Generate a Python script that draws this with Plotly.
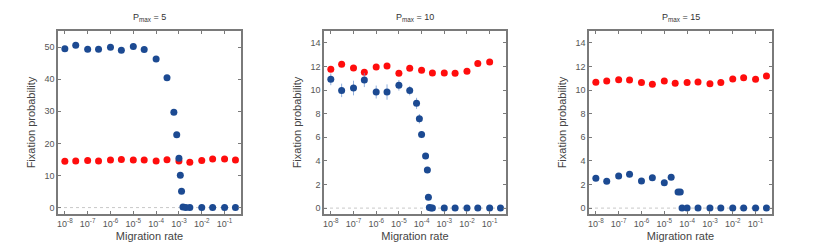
import plotly.graph_objects as go

# ---------------- data ----------------
titles = ["P<sub>max</sub> = 5", "P<sub>max</sub> = 10", "P<sub>max</sub> = 15"]

x_tick_vals = [1e-8, 1e-7, 1e-6, 1e-5, 1e-4, 1e-3, 1e-2, 1e-1]
x_tick_text = ["10<sup>-8</sup>", "10<sup>-7</sup>", "10<sup>-6</sup>", "10<sup>-5</sup>",
               "10<sup>-4</sup>", "10<sup>-3</sup>", "10<sup>-2</sup>", "10<sup>-1</sup>"]

p5_red_x = [1e-8, 3e-8, 1e-7, 3e-7, 1e-6, 3e-6, 1e-5, 3e-5, 1e-4, 3e-4, 1e-3, 3e-3, 1e-2, 3e-2, 1e-1, 3e-1]
p5_red_y = [14.4, 14.5, 14.7, 14.5, 14.8, 15.0, 14.8, 14.8, 14.5, 14.9, 14.5, 14.1, 14.7, 15.1, 15.1, 14.8]
p5_blue_x = [1e-8, 3e-8, 1e-7, 3e-7, 1e-6, 3e-6, 1e-5, 3e-5, 1e-4, 3e-4, 6e-4, 8e-4, 1e-3,
             1.15e-3, 1.3e-3, 1.5e-3, 2e-3, 3e-3, 1e-2, 3e-2, 1e-1, 3e-1]
p5_blue_y = [49.5, 50.6, 49.3, 49.3, 49.9, 49.0, 50.2, 49.2, 46.3, 40.4, 29.7, 22.7, 15.4,
             10.1, 5.1, 0.2, 0, 0, 0, 0, 0, 0]
p5_blue_err = [0] * len(p5_blue_y)

p10_red_x = [1e-8, 3e-8, 1e-7, 3e-7, 1e-6, 3e-6, 1e-5, 3e-5, 1e-4, 3e-4, 1e-3, 3e-3, 1e-2, 3e-2, 1e-1]
p10_red_y = [11.76, 12.18, 11.87, 11.5, 11.96, 12.04, 11.42, 11.84, 11.67, 11.45, 11.45, 11.42, 11.59, 12.24, 12.38]
p10_blue_x = [1e-8, 3e-8, 1e-7, 3e-7, 1e-6, 3e-6, 1e-5, 3e-5, 6e-5, 8e-5, 1e-4, 1.5e-4, 1.8e-4,
              2e-4, 2.2e-4, 2.6e-4, 3e-4, 1e-3, 3e-3, 1e-2, 3e-2, 1e-1, 3e-1]
p10_blue_y = [10.91, 9.97, 10.17, 10.85, 9.83, 9.83, 10.4, 9.95, 8.87, 7.57, 6.23, 4.42, 3.23,
              0.91, 0.06, 0, 0, 0, 0, 0, 0, 0, 0]
p10_blue_err = [0.5, 0.57, 0.62, 0.6, 0.55, 0.65, 0.45, 0.4, 0.47, 0.4, 0.3, 0.2, 0.15,
                0.1, 0, 0, 0, 0, 0, 0, 0, 0, 0]

p15_red_x = [1e-8, 3e-8, 1e-7, 3e-7, 1e-6, 3e-6, 1e-5, 3e-5, 1e-4, 3e-4, 1e-3, 3e-3, 1e-2, 3e-2, 1e-1, 3e-1]
p15_red_y = [10.65, 10.77, 10.88, 10.85, 10.63, 10.48, 10.77, 10.57, 10.63, 10.68, 10.54, 10.63,
             10.94, 11.05, 10.91, 11.19]
p15_blue_x = [1e-8, 3e-8, 1e-7, 3e-7, 1e-6, 3e-6, 1e-5, 2e-5, 4e-5, 5e-5, 6e-5, 1e-4, 3e-4,
              1e-3, 3e-3, 1e-2, 3e-2, 1e-1, 3e-1]
p15_blue_y = [2.52, 2.27, 2.72, 2.86, 2.3, 2.58, 2.15, 2.61, 1.36, 1.36, 0, 0, 0, 0, 0, 0, 0, 0, 0]
p15_blue_err = [0.2, 0.15, 0.25, 0.25, 0.15, 0.2, 0.12, 0.15, 0.1, 0.1, 0, 0, 0, 0, 0, 0, 0, 0, 0]

panels = [
    (p5_red_x, p5_red_y, p5_blue_x, p5_blue_y, p5_blue_err, [-2, 55], [0, 10, 20, 30, 40, 50]),
    (p10_red_x, p10_red_y, p10_blue_x, p10_blue_y, p10_blue_err, [-0.5, 15], [0, 2, 4, 6, 8, 10, 12, 14]),
    (p15_red_x, p15_red_y, p15_blue_x, p15_blue_y, p15_blue_err, [-0.5, 15], [0, 2, 4, 6, 8, 10, 12, 14]),
]

# ---------------- styling ----------------
RED = "#ff0d0d"
BLUE = "#1c4a92"
ERR = "rgba(110,150,210,0.75)"
FONT = "Liberation Sans"
FRAME = "#7a7a7a"

x_domains = [(58 / 830, 241 / 830), (324 / 830, 506 / 830), (589 / 830, 772 / 830)]
y_domain = (1 - 214 / 252, 1 - 31 / 252)

fig = go.Figure()
for i, (rx, ry, bx, by, be, yr, yt) in enumerate(panels):
    n = "" if i == 0 else str(i + 1)
    xa, ya = "x" + n, "y" + n
    fig.add_trace(go.Scatter(
        x=rx, y=ry, mode="markers", xaxis=xa, yaxis=ya,
        marker=dict(color=RED, size=7, line=dict(width=0)), showlegend=False))
    fig.add_trace(go.Scatter(
        x=bx, y=by, mode="markers", xaxis=xa, yaxis=ya,
        error_y=dict(type="data", array=be, visible=True, color=ERR, thickness=1, width=0),
        marker=dict(color=BLUE, size=7, line=dict(width=0)), showlegend=False))

    axis_common = dict(showline=True, linecolor=FRAME, linewidth=1.5, mirror="ticks",
                       ticks="inside", ticklen=3, tickcolor=FRAME, showgrid=False,
                       zeroline=False, automargin=False,
                       tickfont=dict(family=FONT, size=9, color="#555"))
    fig.layout["xaxis" + n] = dict(
        type="log", range=[-8.3, -0.28], domain=x_domains[i], anchor=ya,
        tickvals=x_tick_vals, ticktext=x_tick_text,
        title=dict(text="Migration rate", font=dict(family=FONT, size=11, color="#444"), standoff=5),
        **axis_common)
    fig.layout["yaxis" + n] = dict(
        range=yr, domain=y_domain, anchor=xa, tickvals=yt,
        title=dict(text="Fixation probability", font=dict(family=FONT, size=11, color="#444"), standoff=7),
        **axis_common)

    fig.add_shape(type="line", xref=xa + " domain", yref=ya, x0=0, x1=1, y0=0, y1=0,
                  line=dict(color="#c8c8c8", width=1, dash="dot"), layer="below")

    fig.add_annotation(text=titles[i], xref="paper", yref="paper",
                       x=(x_domains[i][0] + x_domains[i][1]) / 2, y=1 - 18 / 252,
                       showarrow=False, font=dict(family=FONT, size=9, color="#333"),
                       xanchor="center", yanchor="middle")

fig.update_layout(width=830, height=252, margin=dict(l=0, r=0, t=0, b=0),
                  paper_bgcolor="white", plot_bgcolor="white",
                  font=dict(family=FONT), hovermode=False)

fig.write_html("out.html", config={"displayModeBar": False},
               post_script="document.body.style.margin='0';document.body.style.overflow='hidden';")
